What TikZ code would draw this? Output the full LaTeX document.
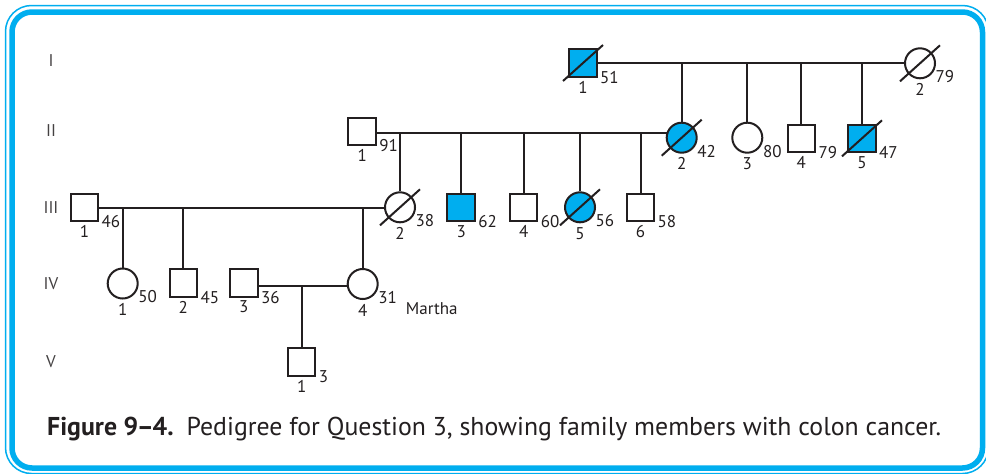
\documentclass[tikz,border=0pt]{standalone}
\usepackage{fontspec}
\setmainfont{PT Sans}
\usetikzlibrary{backgrounds}
\definecolor{pedcyan}{RGB}{0,174,239}
\definecolor{ink}{RGB}{35,31,32}

% a struck-through symbol marks a deceased person
\newcommand\deceased[1]{\draw[link] ([shift={(-20,18)}]#1.center) -- ([shift={(20,-18)}]#1.center);}

\begin{document}
\begin{tikzpicture}[x=1pt,y=-1pt,
  link/.style={line width=2pt, draw=ink},
  male/.style={link, rectangle, minimum size=27.5pt, inner sep=0pt, fill=white},
  female/.style={link, circle, minimum size=30pt, inner sep=0pt, fill=white},
  affected/.style={fill=pedcyan},
  txt/.style={inner sep=0pt, text=ink, font=\fontsize{17}{17}\selectfont},
  age/.style={txt, anchor=west},
  gen/.style={txt, text=ink!85},
]
\useasboundingbox (0,0) rectangle (986,474);

% frame
\draw[pedcyan, line width=1.5pt, rounded corners=26pt] (5.5,5.5) rectangle (988.5,473.5);
\draw[pedcyan, line width=5.5pt, rounded corners=20pt] (12,12) rectangle (982.5,468);

% generation numerals
\node[gen] (gI)   at (51,61)    {I};
\node[gen] (gII)  at (51,131)   {II};
\node[gen] (gIII) at (51,207.3) {III};
\node[gen] (gIV)  at (51,283.3) {IV};
\node[gen] (gV)   at (51,361.7) {V};

% generation I
\node[male, affected] (I1) at (583,63) {};
\node[female] (I2) at (920,63.3) {};
% generation II
\node[male] (II1) at (362.2,131.3) {};
\node[female, affected] (II2) at (681.7,137.7) {};
\node[female] (II3) at (747.3,137.7) {};
\node[male] (II4) at (801.3,138.3) {};
\node[male, affected] (II5) at (862,138.3) {};
% generation III
\node[male] (III1) at (84.5,207.5) {};
\node[female] (III2) at (400,207.3) {};
\node[male, affected] (III3) at (461.2,207.5) {};
\node[male] (III4) at (523.7,207.5) {};
\node[female, affected] (III5) at (580,207.3) {};
\node[male] (III6) at (640.5,207.5) {};
% generation IV
\node[female] (IV1) at (122.7,283.5) {};
\node[male] (IV2) at (183.3,283) {};
\node[male] (IV3) at (243.8,283) {};
\node[female] (IV4) at (362.7,284) {};
% generation V
\node[male] (V1) at (301.7,362) {};

% deceased
\deceased{I1}
\deceased{I2}
\deceased{II2}
\deceased{II5}
\deceased{III2}
\deceased{III5}

% individual numbers and ages
\foreach \p/\n/\a in {I1/1/51, II1/1/91, II4/4/79, II5/5/47, III1/1/46, III3/3/62,
                      III4/4/60, III6/6/58, IV2/2/45, IV3/3/36, V1/1/3} {
  \node[txt] (\p-n) at ([shift={(0,24)}]\p.center) {\n};
  \node[age] (\p-a) at ([shift={(17,14.5)}]\p.center) {\a};
}
\foreach \p/\n/\a in {I2/2/79, II2/2/42, II3/3/80, III2/2/38, III5/5/56,
                      IV1/1/50, IV4/4/31} {
  \node[txt] (\p-n) at ([shift={(0,26)}]\p.center) {\n};
  \node[age] (\p-a) at ([shift={(15.5,13.5)}]\p.center) {\a};
}
\node[txt] (martha) at (431.7,308.3) {Martha};

% caption
\node[anchor=base west, inner sep=0pt, text=ink, font=\fontsize{25.8}{30}\selectfont]
  (caption) at (47,435)
  {\textbf{Figure 9\kern-0.05em–\kern-0.05em4.}\hspace{0.5em}Pedigree for Question 3, showing family members with colon cancer.};

% mating lines and lines of descent
\coordinate (mI)   at (750,63.3);
\coordinate (mII)  at (520,132.7);
\coordinate (mIII) at (240,208.3);
\coordinate (mIV)  at (301.7,285.7);

\begin{scope}[on background layer]
  \fill[white] (0,0) rectangle (986,474);
  \draw[link] (I1 |- mI) -- (I2 |- mI);
  \foreach \c in {II2, II3, II4, II5} \draw[link] (\c) -- (\c |- mI);
  \draw[link] (II1 |- mII) -- (II2 |- mII);
  \foreach \c in {III2, III3, III4, III5, III6} \draw[link] (\c) -- (\c |- mII);
  \draw[link] (III1 |- mIII) -- (III2 |- mIII);
  \foreach \c in {IV1, IV2, IV4} \draw[link] (\c) -- (\c |- mIII);
  \draw[link] (IV3 |- mIV) -- (IV4 |- mIV);
  \draw[link] (V1) -- (V1 |- mIV);
\end{scope}
\end{tikzpicture}
\end{document}
